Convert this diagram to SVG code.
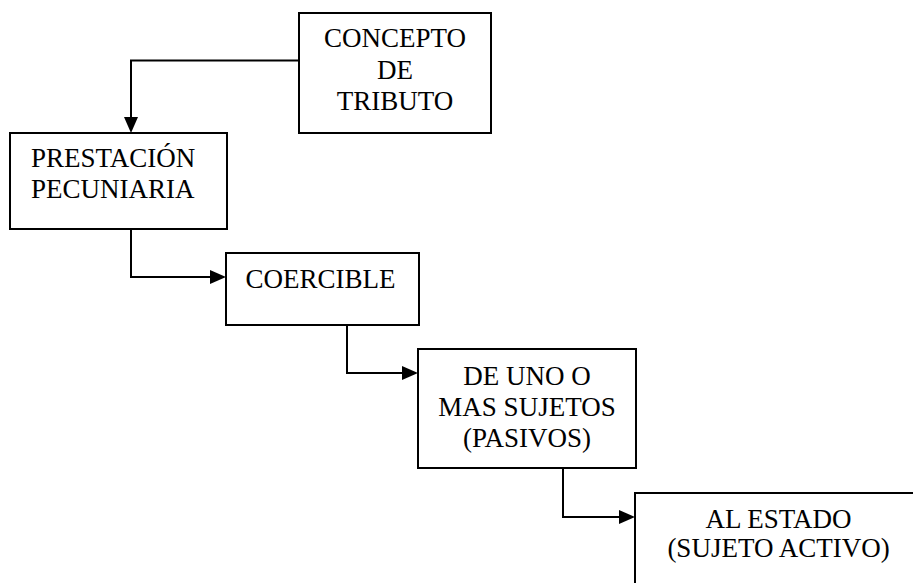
<svg xmlns="http://www.w3.org/2000/svg" width="913" height="583" viewBox="0 0 913 583">
<style>
.box{fill:#fff;stroke:#000;stroke-width:2}
.lbl{font-family:"Liberation Serif","Times New Roman",serif;font-size:27px;fill:#000;text-anchor:middle}
.con{fill:none;stroke:#000;stroke-width:2;marker-end:url(#arr)}
</style>
<defs>
<marker id="arr" markerUnits="userSpaceOnUse" markerWidth="17" markerHeight="15" refX="0" refY="7" orient="auto">
<path d="M0,0 L16,7 L0,14 z" fill="#000"/>
</marker>
</defs>
<rect width="913" height="583" fill="#fff"/>
<g id="connectors">
<path class="con" d="M299,60.5 H131 V117"/>
<path class="con" d="M131,229 V277 H210"/>
<path class="con" d="M347,325 V373 H402"/>
<path class="con" d="M563,468 V517 H619"/>
</g>
<g id="n1">
<rect class="box" x="299" y="13" width="192" height="120"/>
<text class="lbl" x="395" y="47">CONCEPTO</text>
<text class="lbl" x="395" y="79">DE</text>
<text class="lbl" x="395" y="110">TRIBUTO</text>
</g>
<g id="n2">
<rect class="box" x="10" y="133" width="217" height="96"/>
<text class="lbl" x="31" y="167" style="text-anchor:start">PRESTACIÓN</text>
<text class="lbl" x="31" y="198" style="text-anchor:start">PECUNIARIA</text>
</g>
<g id="n3">
<rect class="box" x="226" y="253" width="193" height="72"/>
<text class="lbl" x="320.5" y="288">COERCIBLE</text>
</g>
<g id="n4">
<rect class="box" x="418" y="349" width="218" height="119"/>
<text class="lbl" x="527" y="385">DE UNO O</text>
<text class="lbl" x="527" y="416">MAS SUJETOS</text>
<text class="lbl" x="527" y="447">(PASIVOS)</text>
</g>
<g id="n5">
<rect class="box" x="635" y="493" width="300" height="110"/>
<text class="lbl" x="778.5" y="528">AL ESTADO</text>
<text class="lbl" x="778.5" y="557">(SUJETO ACTIVO)</text>
</g>
</svg>
